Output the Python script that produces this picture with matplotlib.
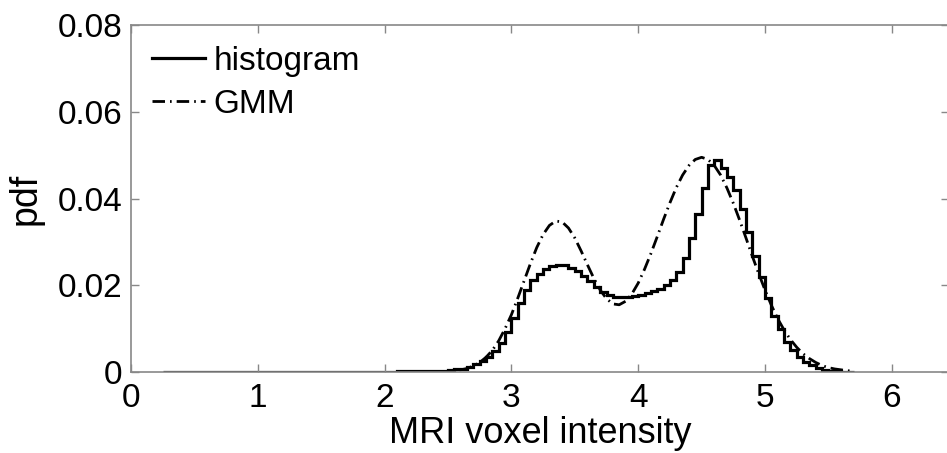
import numpy as np
import matplotlib
matplotlib.use("Agg")
import matplotlib.pyplot as plt

# ---- data ----
bin_width = 0.05
hist_left_edge = 0.25
hist_values = (
    [0.0001] * 35 +
    [0.0001, 0.0001, 0.0002, 0.0002, 0.0002, 0.0002, 0.0002, 0.0002] +
    [0.0002, 0.0003, 0.0004, 0.0006, 0.0008, 0.0012, 0.0018, 0.0025,
     0.0035, 0.0048, 0.0068, 0.0092, 0.0125, 0.0160, 0.0190, 0.0212,
     0.0227, 0.0237, 0.0244, 0.0247, 0.0246, 0.0240, 0.0233, 0.0222,
     0.0210, 0.0196, 0.0184, 0.0177, 0.0174, 0.0173, 0.0174, 0.0176,
     0.0178, 0.0181, 0.0186, 0.0192, 0.0200, 0.0212, 0.0230, 0.0262,
     0.0310, 0.0365, 0.0425, 0.0477, 0.0489, 0.0470, 0.0450, 0.0420,
     0.0375, 0.0322, 0.0268, 0.0218, 0.0170, 0.0130, 0.0098, 0.0070,
     0.0050, 0.0035, 0.0024, 0.0015, 0.0009, 0.0005, 0.0003, 0.0002,
     0.0001, 0.0001]
)

gmm_x = [2.40, 2.45, 2.50, 2.55, 2.60, 2.65, 2.70, 2.75, 2.80, 2.85,
         2.90, 2.95, 3.00, 3.05, 3.10, 3.15, 3.20, 3.25, 3.30, 3.35,
         3.40, 3.45, 3.50, 3.55, 3.60, 3.65, 3.70, 3.75, 3.80, 3.85,
         3.90, 3.95, 4.00, 4.05, 4.10, 4.15, 4.20, 4.25, 4.30, 4.35,
         4.40, 4.45, 4.50, 4.55, 4.60, 4.65, 4.70, 4.75, 4.80, 4.85,
         4.90, 4.95, 5.00, 5.05, 5.10, 5.15, 5.20, 5.25, 5.30, 5.35,
         5.40, 5.45, 5.50, 5.55, 5.60, 5.65, 5.70]
gmm_y = [0.0000, 0.0001, 0.0001, 0.0003, 0.0005, 0.0008, 0.0014, 0.0022, 0.0034, 0.0050,
         0.0072, 0.0100, 0.0132, 0.0170, 0.0210, 0.0250, 0.0287, 0.0317, 0.0338, 0.0348,
         0.0346, 0.0332, 0.0309, 0.0279, 0.0247, 0.0216, 0.0189, 0.0169, 0.0157, 0.0155,
         0.0163, 0.0180, 0.0205, 0.0237, 0.0273, 0.0312, 0.0352, 0.0390, 0.0425, 0.0454,
         0.0476, 0.0490, 0.0495, 0.0490, 0.0476, 0.0454, 0.0424, 0.0389, 0.0350, 0.0309,
         0.0267, 0.0227, 0.0189, 0.0154, 0.0123, 0.0097, 0.0075, 0.0057, 0.0042, 0.0031,
         0.0022, 0.0015, 0.0010, 0.0007, 0.0005, 0.0003, 0.0002]

x_ticks = [0, 1, 2, 3, 4, 5, 6]
y_ticks = [0, 0.02, 0.04, 0.06, 0.08]
y_tick_labels = ["0", "0.02", "0.04", "0.06", "0.08"]

# ---- figure ----
plt.rcParams['font.family'] = ['Liberation Sans', 'DejaVu Sans']
fig = plt.figure(figsize=(9.47, 4.53), dpi=100)
ax = fig.add_axes([0.1383, 0.1788, 0.8637, 0.766])

n = len(hist_values)
edges = hist_left_edge + bin_width * np.arange(n + 1)
ax.stairs(hist_values, edges, color='black', linewidth=2.3, label='histogram')
ax.plot(gmm_x, gmm_y, color='black', linewidth=2.0,
        dashes=(4.5, 1.8, 0.6, 1.8), label='GMM')

ax.set_xlim(0, 6.45)
ax.set_ylim(0, 0.08)
ax.set_xticks(x_ticks)
ax.set_yticks(y_ticks)
ax.set_yticklabels(y_tick_labels)
ax.tick_params(direction='in', length=6, width=1, color='#888888',
               labelsize=24, top=True, right=True)
ax.tick_params(axis='y', pad=6)
ax.tick_params(axis='x', pad=8)
for s in ax.spines.values():
    s.set_color('#888888')
    s.set_linewidth(1.2)

ax.set_xlabel('MRI voxel intensity', fontsize=26, labelpad=1.5)
ax.set_ylabel('pdf', fontsize=27, labelpad=10)

leg = ax.legend(loc='upper left', frameon=False, fontsize=24,
                handlelength=1.6, handletextpad=0.25, labelspacing=0.36,
                borderpad=0, borderaxespad=0, bbox_to_anchor=(0.0257, 0.94))

fig.savefig('out.png', dpi=100)
